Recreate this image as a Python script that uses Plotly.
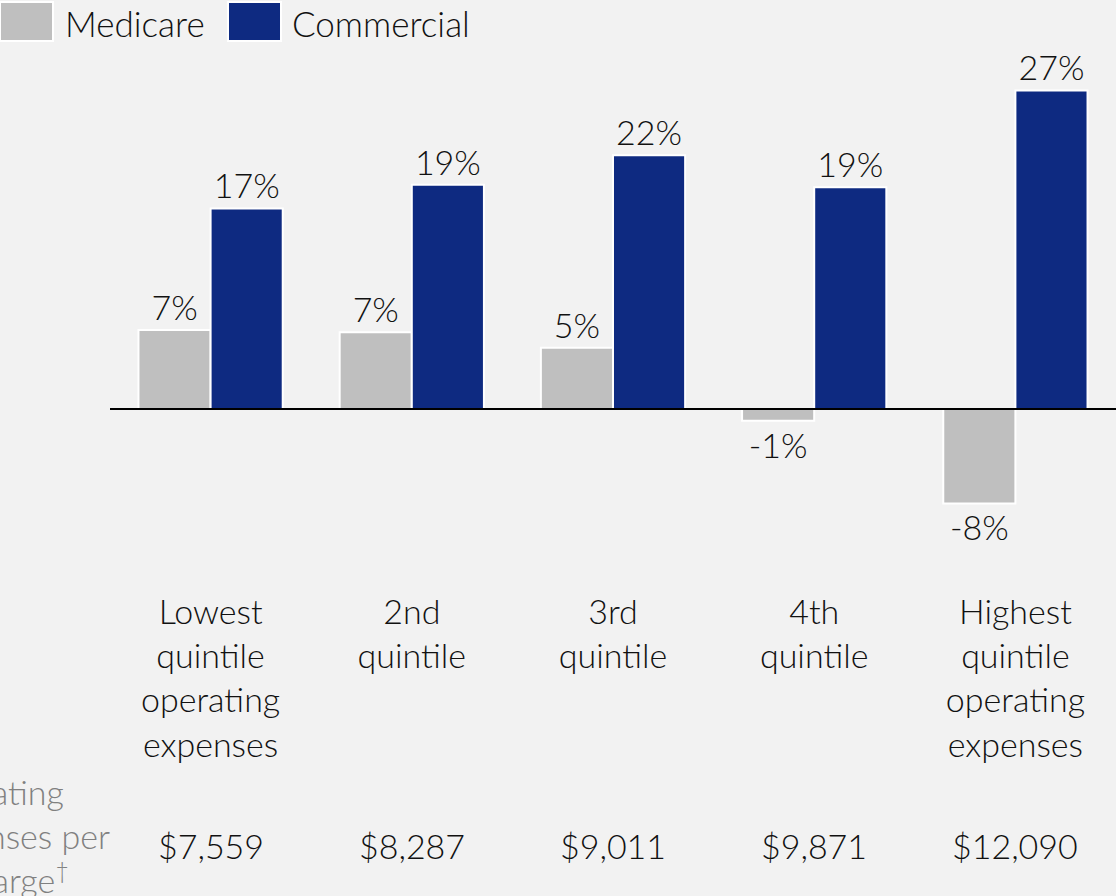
import plotly.graph_objects as go

categories = ["Lowest<br>quintile<br>operating<br>expenses", "2nd<br>quintile", "3rd<br>quintile",
              "4th<br>quintile", "Highest<br>quintile<br>operating<br>expenses"]
medicare = [6.7, 6.5, 5.2, -1.0, -8.0]
commercial = [17.0, 19.0, 21.5, 18.8, 27.0]
medicare_labels = ["7%", "7%", "5%", "-1%", "-8%"]
commercial_labels = ["17%", "19%", "22%", "19%", "27%"]
costs = ["$7,559", "$8,287", "$9,011", "$9,871", "$12,090"]
row_label = "Operating<br>expenses per<br>discharge<sup>†</sup>"

GRAY = "#bfbfbf"
NAVY = "#0e2a81"
BG = "#f2f2f2"
FONT = "Lato"
TXT = "#111111"
FS = 34
W, H = 1116, 896
ML, MR = 110, 0
TOP, BOT = 40, 589
ZERO, PPU = 409, 11.8
ymax = (ZERO - TOP) / PPU
ymin = -(BOT - ZERO) / PPU
PW = W - ML - MR
PH = BOT - TOP

def px_x(p):
    return (p - ML) / PW

def px_y(p):
    return (BOT - p) / PH

def fnt(size=FS, color=TXT):
    return dict(size=size, color=color, family=FONT, weight=300)

fig = go.Figure()
fig.add_trace(go.Bar(
    name="Medicare", x=categories, y=medicare, text=medicare_labels,
    textposition="outside", marker=dict(color=GRAY, line=dict(color="white", width=2)),
    textfont=fnt(), cliponaxis=False, constraintext="none",
    showlegend=False, hoverinfo="skip"))
fig.add_trace(go.Bar(
    name="Commercial", x=categories, y=commercial, text=commercial_labels,
    textposition="outside", marker=dict(color=NAVY, line=dict(color="white", width=2)),
    textfont=fnt(), cliponaxis=False, constraintext="none",
    showlegend=False, hoverinfo="skip"))

annotations = []
for c, v in zip(categories, costs):
    annotations.append(dict(x=c, xref="x", y=px_y(845), yref="paper", text=v, showarrow=False,
                            xanchor="center", yanchor="middle", font=fnt()))
annotations.append(dict(x=px_x(112), xref="paper", y=px_y(835), yref="paper", text=row_label,
                        showarrow=False, xanchor="right", yanchor="middle", align="left",
                        font=fnt(color="#808080")))

shapes = [dict(type="line", xref="paper", yref="y", x0=0, x1=1, y0=0, y1=0,
               line=dict(color="black", width=2), layer="above")]
legend_items = [("Medicare", GRAY, 0, 63), ("Commercial", NAVY, 228, 290)]
for name, col, sx, tx in legend_items:
    shapes.append(dict(type="rect", xref="paper", yref="paper",
                       x0=px_x(sx), x1=px_x(sx + 53), y0=px_y(41), y1=px_y(2),
                       fillcolor=col, line=dict(color="white", width=2)))
    annotations.append(dict(x=px_x(tx), xref="paper", y=px_y(23), yref="paper", text=name,
                            showarrow=False, xanchor="left", yanchor="middle", font=fnt(35)))

fig.update_layout(
    width=W, height=H,
    margin=dict(l=ML, r=MR, t=TOP, b=H - BOT, pad=0),
    paper_bgcolor=BG, plot_bgcolor=BG,
    barmode="group", bargap=0.283, bargroupgap=0,
    font=fnt(),
    xaxis=dict(showline=False, showgrid=False, ticks="", tickfont=fnt(), fixedrange=True),
    yaxis=dict(range=[ymin, ymax], showgrid=False, showticklabels=False, zeroline=False,
               fixedrange=True),
    annotations=annotations, shapes=shapes,
)
fig.write_html("out.html", config={"displayModeBar": False},
               post_script="document.body.style.margin='0px';")
